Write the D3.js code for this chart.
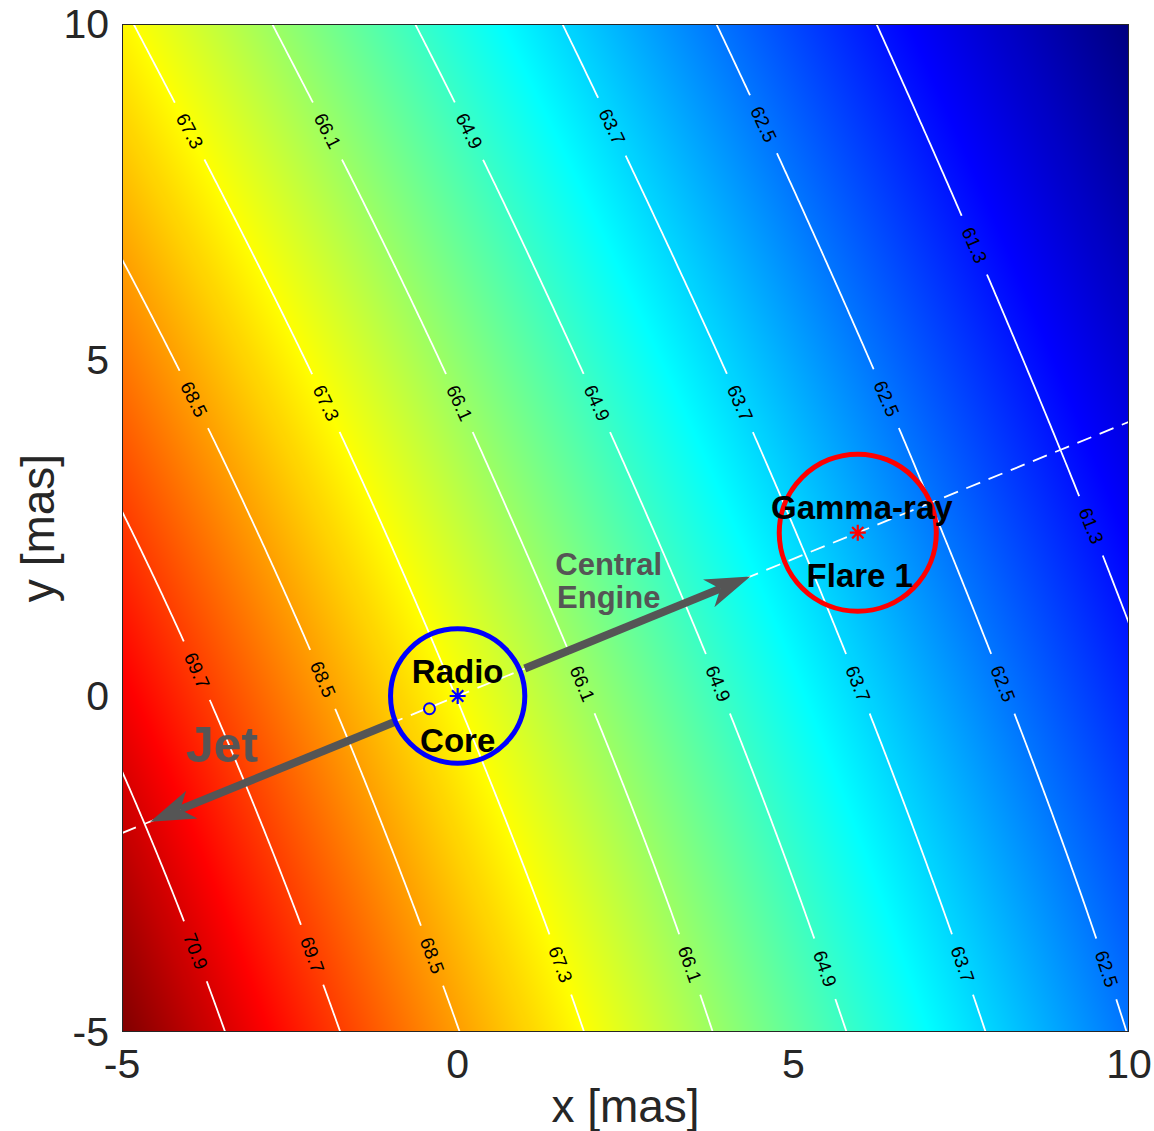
<!DOCTYPE html>
<html>
<head>
<meta charset="utf-8">
<script src="https://cdn.jsdelivr.net/npm/d3@7"></script>
<style>
  body { margin: 0; background: #fff; }
  text { font-family: "Liberation Sans", Arial, Helvetica, sans-serif; }
</style>
</head>
<body>
<div id="chart"></div>
<script>
// field values (rows of constant y, columns of constant x)
const gridX = [-5, -2.5, 0, 2.5, 5, 7.5, 10];
const gridY = [-5, 0, 5, 10];
const rowYm5 = [72.0, 70.22, 68.52, 66.91, 65.37, 63.91, 62.48];
const rowY0 = [70.56, 68.89, 67.28, 65.76, 64.29, 62.88, 61.52];
const rowY5 = [68.98, 67.44, 65.94, 64.49, 63.11, 61.78, 60.49];
const rowY10 = [67.40, 65.95, 64.55, 63.20, 61.92, 60.68, 59.49];

const levels = [61.3, 62.5, 63.7, 64.9, 66.1, 67.3, 68.5, 69.7, 70.9];
const colorLimits = [59.5, 72.0];
const xTicks = [-5, 0, 5, 10];
const yTicks = [-5, 0, 5, 10];

// contour label anchors
const labelLevel = [67.3, 66.1, 64.9, 63.7, 62.5, 61.3,
                    68.5, 67.3, 66.1, 64.9, 63.7, 62.5, 61.3,
                    69.7, 68.5, 66.1, 64.9, 63.7, 62.5,
                    70.9, 69.7, 68.5, 67.3, 66.1, 64.9, 63.7, 62.5];
const labelX = [-3.99, -1.95, 0.14, 2.31, 4.55, 7.66,
                -3.96, -1.98, 0.04, 2.08, 4.21, 6.37, 9.42,
                -3.91, -2.04, 1.81, 3.86, 5.96, 8.11,
                -3.96, -2.20, -0.41, 1.52, 3.45, 5.46, 7.51, 9.66];
const labelY = [8.39, 8.42, 8.42, 8.48, 8.50, 6.70,
                4.40, 4.33, 4.36, 4.38, 4.40, 4.40, 2.54,
                0.36, 0.27, 0.15, 0.16, 0.19, 0.16,
                -3.81, -3.85, -3.88, -4.0, -4.03, -4.03, -4.03, -4.08];

// jet axis, sources and arrows
const axisLineX = [-5, 10];
const axisLineY = [-2.04, 4.08];
const coreXY = [0, 0];
const coreRadius = 1.0;
const flareXY = [5.96, 2.43];
const flareRadius = 1.17;
const smallCircleXY = [-0.42, -0.19];
const arrowFromX = [-0.95, 1.0];
const arrowFromY = [-0.39, 0.41];
const arrowToX = [-4.58, 4.36];
const arrowToY = [-1.87, 1.78];

const noteText = ["Radio", "Core", "Gamma-ray", "Flare 1", "Central", "Engine", "Jet"];
const noteX = [0, 0, 6.02, 5.99, 2.25, 2.25, -3.51];
const noteY = [0.36, -0.66, 2.81, 1.80, 1.96, 1.46, -0.73];

const W = 1154, H = 1131;
const pLeft = 122, pRight = 1129, pTop = 24, pBottom = 1032;

const svg = d3.select("#chart").append("svg")
    .attr("width", W).attr("height", H);

const xScale = d3.scaleLinear().domain([-5, 10]).range([pLeft, pRight]);
const yScale = d3.scaleLinear().domain([-5, 10]).range([pBottom, pTop]);

const rows = [rowYm5, rowY0, rowY5, rowY10];

// catmull-rom along x, linear beyond the ends
function alongX(vs, x) {
    const h = gridX[1] - gridX[0], n = gridX.length;
    const t = (x - gridX[0]) / h;
    if (t <= 0) return vs[0] + t * (vs[1] - vs[0]);
    if (t >= n - 1) return vs[n - 1] + (t - (n - 1)) * (vs[n - 1] - vs[n - 2]);
    const i = Math.min(Math.floor(t), n - 2), u = t - i;
    const p1 = vs[i], p2 = vs[i + 1];
    const p0 = i > 0 ? vs[i - 1] : 2 * p1 - p2;
    const p3 = i + 2 < n ? vs[i + 2] : 2 * p2 - p1;
    return 0.5 * (2 * p1 + (-p0 + p2) * u + (2 * p0 - 5 * p1 + 4 * p2 - p3) * u * u
        + (-p0 + 3 * p1 - 3 * p2 + p3) * u * u * u);
}
// cubic through the four rows along y
function alongY(rv, y) {
    let s = 0;
    for (let i = 0; i < 4; i++) {
        let w = 1;
        for (let j = 0; j < 4; j++) if (j !== i) w *= (y - gridY[j]) / (gridY[i] - gridY[j]);
        s += w * rv[i];
    }
    return s;
}
function field(x, y) {
    return alongY(rows.map(r => alongX(r, x)), y);
}

// jet colour map
const jetStops = [0, 0.125, 0.375, 0.625, 0.875, 1];
const jet = d3.scaleLinear()
    .domain(jetStops.map(t => colorLimits[0] + t * (colorLimits[1] - colorLimits[0])))
    .range(["#000080", "#0000ff", "#00ffff", "#ffff00", "#ff0000", "#800000"])
    .clamp(true);
const lut = d3.range(1024).map(k => d3.rgb(jet(colorLimits[0] + k / 1023 * (colorLimits[1] - colorLimits[0]))));

// background image
const pw = pRight - pLeft, ph = pBottom - pTop;
const canvas = document.createElement("canvas");
canvas.width = pw; canvas.height = ph;
const ctx = canvas.getContext("2d");
const img = ctx.createImageData(pw, ph);
const colRows = d3.range(pw).map(i => rows.map(r => alongX(r, xScale.invert(pLeft + i + 0.5))));
for (let j = 0; j < ph; j++) {
    const y = yScale.invert(pTop + j + 0.5);
    for (let i = 0; i < pw; i++) {
        const v = alongY(colRows[i], y);
        let k = Math.round((v - colorLimits[0]) / (colorLimits[1] - colorLimits[0]) * 1023);
        k = Math.max(0, Math.min(1023, k));
        const c = lut[k], o = (j * pw + i) * 4;
        img.data[o] = c.r; img.data[o + 1] = c.g; img.data[o + 2] = c.b; img.data[o + 3] = 255;
    }
}
ctx.putImageData(img, 0, 0);

const defs = svg.append("defs");
defs.append("clipPath").attr("id", "plotClip")
    .append("rect").attr("x", pLeft).attr("y", pTop).attr("width", pw).attr("height", ph);

svg.append("image")
    .attr("x", pLeft).attr("y", pTop)
    .attr("width", pw).attr("height", ph)
    .attr("preserveAspectRatio", "none")
    .attr("href", canvas.toDataURL());

// contours on a fine grid a bit larger than the axes
const n = 240, g0 = -5.3, g1 = 10.3, step = (g1 - g0) / (n - 1);
const values = new Array(n * n);
for (let j = 0; j < n; j++)
    for (let i = 0; i < n; i++)
        values[i + j * n] = field(g0 + i * step, g0 + j * step);
const contours = d3.contours().size([n, n]).thresholds(levels)(values);
const toPx = p => [xScale(g0 + (p[0] - 0.5) * step), yScale(g0 + (p[1] - 0.5) * step)];

const ringsByLevel = new Map();
contours.forEach(c => {
    const rings = [];
    c.coordinates.forEach(poly => poly.forEach(ring => rings.push(ring.map(toPx))));
    ringsByLevel.set(c.value, rings);
});

// label placement on the nearest contour point
const labels = labelLevel.map((lv, k) => {
    const tx = xScale(labelX[k]), ty = yScale(labelY[k]);
    let best = null, bd = Infinity;
    const c = contours.find(c => Math.abs(c.value - lv) < 1e-6);
    ringsByLevel.get(c.value).forEach(ring => ring.forEach((p, idx) => {
        const d = (p[0] - tx) ** 2 + (p[1] - ty) ** 2;
        if (d < bd) { bd = d; best = { ring, idx }; }
    }));
    const r = best.ring, m = r.length;
    const a = r[(best.idx - 3 + m) % m], b = r[(best.idx + 3) % m];
    let ang = Math.atan2(b[1] - a[1], b[0] - a[0]) * 180 / Math.PI;
    if (ang > 90) ang -= 180;
    if (ang < -90) ang += 180;
    return { x: r[best.idx][0], y: r[best.idx][1], ang, text: lv.toFixed(1) };
});

const mask = defs.append("mask").attr("id", "gapMask")
    .attr("maskUnits", "userSpaceOnUse")
    .attr("x", 0).attr("y", 0).attr("width", W).attr("height", H);
mask.append("rect").attr("width", W).attr("height", H).attr("fill", "white");
mask.selectAll(".gap")
    .data(labels)
    .enter()
    .append("rect")
    .attr("x", -32).attr("y", -12).attr("width", 64).attr("height", 24)
    .attr("fill", "black")
    .attr("transform", d => `translate(${d.x},${d.y}) rotate(${d.ang})`);

const line = d3.line();
svg.append("g").attr("clip-path", "url(#plotClip)")
    .append("g").attr("mask", "url(#gapMask)")
    .selectAll("path")
    .data(Array.from(ringsByLevel.values()).flat())
    .enter()
    .append("path")
    .attr("d", d => line(d) + "Z")
    .attr("fill", "none")
    .attr("stroke", "white")
    .attr("stroke-width", 1.8);

svg.append("g").selectAll("text")
    .data(labels)
    .enter()
    .append("text")
    .attr("transform", d => `translate(${d.x},${d.y}) rotate(${d.ang})`)
    .attr("text-anchor", "middle")
    .attr("dominant-baseline", "central")
    .style("font-size", "19px")
    .style("fill", "black")
    .text(d => d.text);

// dashed jet axis
svg.append("line")
    .attr("clip-path", "url(#plotClip)")
    .attr("x1", xScale(axisLineX[0])).attr("y1", yScale(axisLineY[0]))
    .attr("x2", xScale(axisLineX[1])).attr("y2", yScale(axisLineY[1]))
    .attr("stroke", "white").attr("stroke-width", 1.8)
    .attr("stroke-dasharray", "15,9");

// arrows
const arrowColor = "#555555";
arrowFromX.forEach((fx, k) => {
    const x1 = xScale(fx), y1 = yScale(arrowFromY[k]);
    const x2 = xScale(arrowToX[k]), y2 = yScale(arrowToY[k]);
    const len = Math.hypot(x2 - x1, y2 - y1);
    const ux = (x2 - x1) / len, uy = (y2 - y1) / len, nx = -uy, ny = ux;
    const L = 45, w = 15;
    const nb = [x2 - 0.72 * L * ux, y2 - 0.72 * L * uy];
    svg.append("line")
        .attr("x1", x1).attr("y1", y1).attr("x2", nb[0]).attr("y2", nb[1])
        .attr("stroke", arrowColor).attr("stroke-width", 8);
    const head = [[x2, y2],
        [x2 - L * ux + w * nx, y2 - L * uy + w * ny],
        nb,
        [x2 - L * ux - w * nx, y2 - L * uy - w * ny]];
    svg.append("path")
        .attr("d", d3.line()(head) + "Z")
        .attr("fill", arrowColor);
});

// source circles and markers
svg.append("circle")
    .attr("cx", xScale(coreXY[0])).attr("cy", yScale(coreXY[1]))
    .attr("r", xScale(coreRadius) - xScale(0))
    .attr("fill", "none").attr("stroke", "#0000ff").attr("stroke-width", 5);
svg.append("circle")
    .attr("cx", xScale(flareXY[0])).attr("cy", yScale(flareXY[1]))
    .attr("r", xScale(flareRadius) - xScale(0))
    .attr("fill", "none").attr("stroke", "#ff0000").attr("stroke-width", 5);
svg.append("circle")
    .attr("cx", xScale(smallCircleXY[0])).attr("cy", yScale(smallCircleXY[1]))
    .attr("r", 5.5)
    .attr("fill", "none").attr("stroke", "#0000ff").attr("stroke-width", 2);

function asterisk(cx, cy, color) {
    const r = 8;
    const d = [0, 45, 90, 135].map(a => {
        const c = Math.cos(a * Math.PI / 180) * r, s = Math.sin(a * Math.PI / 180) * r;
        return `M${cx - c},${cy - s}L${cx + c},${cy + s}`;
    }).join("");
    svg.append("path").attr("d", d).attr("stroke", color).attr("stroke-width", 2.2);
}
asterisk(xScale(coreXY[0]), yScale(coreXY[1]), "#0000ff");
asterisk(xScale(flareXY[0]), yScale(flareXY[1]), "#ff0000");

// annotations
const noteColor = ["black", "black", "black", "black", arrowColor, arrowColor, arrowColor];
const noteSize = [33, 33, 33, 33, 31, 31, 50];
svg.append("g").selectAll("text")
    .data(noteText)
    .enter()
    .append("text")
    .attr("x", (d, i) => xScale(noteX[i]))
    .attr("y", (d, i) => yScale(noteY[i]))
    .attr("text-anchor", "middle")
    .attr("dominant-baseline", "central")
    .style("font-weight", "bold")
    .style("font-size", (d, i) => noteSize[i] + "px")
    .style("fill", (d, i) => noteColor[i])
    .text(d => d);

// axes box and tick labels
svg.append("rect")
    .attr("x", pLeft + 0.5).attr("y", pTop + 0.5)
    .attr("width", pw - 1).attr("height", ph - 1)
    .attr("fill", "none").attr("stroke", "#262626").attr("stroke-width", 1);

svg.append("g").selectAll("text")
    .data(xTicks)
    .enter()
    .append("text")
    .attr("x", d => xScale(d))
    .attr("y", 1064)
    .attr("text-anchor", "middle")
    .attr("dominant-baseline", "central")
    .style("font-size", "41px")
    .style("fill", "#262626")
    .text(d => d);

svg.append("g").selectAll("text")
    .data(yTicks)
    .enter()
    .append("text")
    .attr("x", 109)
    .attr("y", d => yScale(d))
    .attr("text-anchor", "end")
    .attr("dominant-baseline", "central")
    .style("font-size", "41px")
    .style("fill", "#262626")
    .text(d => d);

svg.append("text")
    .attr("x", (pLeft + pRight) / 2).attr("y", 1106)
    .attr("text-anchor", "middle")
    .attr("dominant-baseline", "central")
    .style("font-size", "46px")
    .style("fill", "#262626")
    .text("x [mas]");

svg.append("text")
    .attr("transform", `translate(38,${(pTop + pBottom) / 2}) rotate(-90)`)
    .attr("text-anchor", "middle")
    .attr("dominant-baseline", "central")
    .style("font-size", "46px")
    .style("fill", "#262626")
    .text("y [mas]");
</script>
</body>
</html>
